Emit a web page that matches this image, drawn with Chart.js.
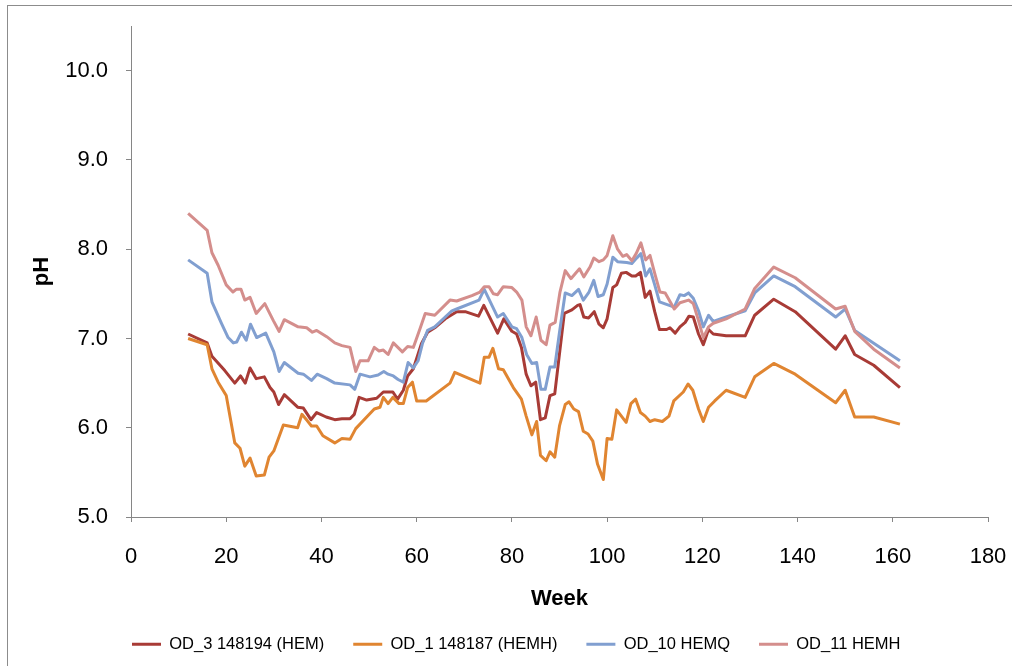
<!DOCTYPE html>
<html>
<head>
<meta charset="utf-8">
<script src="https://cdn.jsdelivr.net/npm/chart.js@4.4.0/dist/chart.umd.min.js"></script>
<style>
html,body{margin:0;padding:0;background:#fff;}
#wrap{width:1012px;height:666px;position:relative;}
</style>
</head>
<body>
<div id="wrap"><canvas id="c"></canvas></div>
<script>
// ---- data (week, pH) ----
const seriesNames = ['OD_3 148194 (HEM)', 'OD_1 148187 (HEMH)', 'OD_10 HEMQ', 'OD_11 HEMH'];

const weeksOD3 = [12,16,17,19.7,21.8,23,24,25,26.3,28,29.2,30,31,32.2,35,36.2,37.8,39,41,42.8,44.3,46,46.9,47.9,49.5,51.6,53,55,56,57.2,58.1,59.3,61,62.3,63.8,66,68.4,70.2,73,74.1,77,78.3,80,81,82,83,84,85,86,87,88,89,90,91,92.6,93.8,94.3,95.1,96.1,97.3,98.3,99.2,100,101.2,102,103,104,105.2,106,107,108,109,110,111,112.5,113.2,114.3,115.3,116.4,117.2,118.1,119.2,120.2,121.3,122.3,125,129,131,135,139.5,148,150,152,156,161.5];
const phOD3 = [7.05,6.95,6.80,6.64,6.50,6.58,6.50,6.67,6.55,6.57,6.45,6.40,6.26,6.37,6.23,6.22,6.09,6.17,6.12,6.09,6.10,6.10,6.15,6.34,6.31,6.33,6.40,6.40,6.32,6.42,6.58,6.66,6.94,7.07,7.12,7.22,7.30,7.30,7.25,7.37,7.06,7.22,7.08,7.05,6.90,6.60,6.47,6.51,6.09,6.11,6.36,6.38,6.83,7.28,7.32,7.37,7.38,7.24,7.23,7.30,7.16,7.12,7.22,7.57,7.60,7.73,7.74,7.70,7.70,7.74,7.46,7.53,7.30,7.10,7.10,7.12,7.06,7.13,7.18,7.25,7.24,7.05,6.93,7.10,7.05,7.03,7.03,7.26,7.44,7.30,6.88,7.03,6.82,6.70,6.45];

const weeksOD1 = [12,16,17,18.3,20,21.8,22.9,23.9,25,26.3,28,29,30,32,35,35.9,37,37.9,39,40.3,42.8,44.3,46,47.2,49.5,51.1,52.3,53,54,55,56.3,57.2,58.1,59.1,60,62,67,68,73.3,74.2,75.2,76,77.2,78.2,80.3,82,83,84.2,85.2,86,87.2,88,89,90,91.2,92,93,94,95,96,97,98,99.2,100,101,102,103,104,105,106,107,108,109,110,111.6,113,114,116,117,118,119.2,120.2,121.3,122.6,125,129,131,135,139.5,148,150,152,156,161.5];
const phOD1 = [7.00,6.93,6.66,6.51,6.36,5.83,5.77,5.57,5.66,5.46,5.47,5.67,5.74,6.03,6.00,6.15,6.08,6.02,6.02,5.91,5.83,5.88,5.87,5.99,6.12,6.21,6.23,6.34,6.27,6.34,6.27,6.27,6.45,6.51,6.30,6.30,6.50,6.62,6.50,6.79,6.79,6.89,6.66,6.65,6.45,6.32,6.13,5.92,6.07,5.69,5.63,5.73,5.67,6.02,6.26,6.29,6.21,6.18,5.96,5.93,5.85,5.59,5.42,5.88,5.87,6.20,6.13,6.06,6.27,6.32,6.17,6.13,6.07,6.09,6.07,6.13,6.30,6.40,6.49,6.42,6.21,6.07,6.23,6.30,6.42,6.34,6.57,6.72,6.60,6.28,6.42,6.12,6.12,6.04];

const weeksOD10 = [12,16,17,19,20.4,21.5,22.2,23.2,24.2,25.1,26.4,28.3,30,31.1,32.2,35.1,36.2,37.9,39.1,41.1,42.8,46,47,48.1,50.2,51.9,53.1,54,55.1,56.1,57.2,58.2,59.3,60.3,61.2,62.3,63.8,67.4,68.4,73.1,74.2,77,78.2,80,81,82.1,83.1,84.2,85.2,86.1,87,88,89,90,91.2,92.6,94,95,96.2,97.2,98.1,99.2,100,101.2,102.2,104.1,105.2,106.2,107.1,108.1,109,110,111,114.1,115.3,116.2,117.1,118.1,119.2,120.2,121.3,122.3,125,129,131,135,139.5,148,150,152,161.5];
const phOD10 = [7.88,7.73,7.41,7.17,7.01,6.95,6.96,7.07,6.98,7.16,7.01,7.06,6.85,6.63,6.73,6.61,6.60,6.53,6.60,6.55,6.50,6.48,6.43,6.60,6.57,6.59,6.63,6.60,6.58,6.54,6.51,6.73,6.67,6.75,6.94,7.09,7.13,7.31,7.33,7.43,7.55,7.24,7.28,7.13,7.11,7.01,6.82,6.72,6.73,6.43,6.43,6.68,6.68,7.07,7.51,7.48,7.55,7.43,7.52,7.65,7.47,7.49,7.61,7.91,7.86,7.85,7.84,7.90,7.95,7.70,7.78,7.60,7.41,7.35,7.49,7.48,7.51,7.45,7.31,7.13,7.26,7.19,7.24,7.31,7.51,7.70,7.58,7.24,7.33,7.09,6.75];

const weeksOD11 = [12,16,17,18.3,20,21.4,22.1,23.1,23.9,25,26.3,28.1,29.9,31.1,32.2,35.1,36.9,38.1,39,41.1,42.8,44.3,46,47.2,48.1,49.8,51.1,52.1,53,54,55.1,57,58.1,59.3,60.7,61.8,63.8,67,68.4,71.6,73.3,74.2,75.2,76.1,77,78.2,80,81,82.1,83,84,85.1,86.1,87.2,88,89.1,90.1,91.2,92.4,94.2,95.1,96.4,97.2,98.3,99.2,100,101.2,102.2,103.3,104.1,105.2,106.1,107.1,108.1,109,110.1,111.1,112.2,114.1,115.3,117.1,118.1,119.2,120.2,121.3,122.3,125,129,131,135,139.5,148,150,152,156,161.5];
const phOD11 = [8.40,8.21,7.96,7.82,7.60,7.52,7.55,7.55,7.43,7.46,7.28,7.39,7.20,7.08,7.21,7.13,7.12,7.07,7.09,7.02,6.95,6.92,6.90,6.63,6.75,6.75,6.90,6.86,6.87,6.82,6.95,6.85,6.91,6.90,7.11,7.28,7.26,7.43,7.42,7.48,7.52,7.58,7.58,7.50,7.49,7.58,7.57,7.52,7.43,7.13,7.03,7.24,6.98,6.93,7.15,7.18,7.52,7.76,7.67,7.78,7.69,7.80,7.90,7.86,7.88,7.93,8.15,8.00,7.92,7.94,7.87,7.95,8.07,7.88,7.93,7.71,7.52,7.51,7.33,7.40,7.43,7.39,7.20,7.01,7.13,7.17,7.22,7.33,7.56,7.80,7.68,7.33,7.36,7.08,6.88,6.67];

const xTicks = [0,20,40,60,80,100,120,140,160,180];
const yTicks = [5,6,7,8,9,10];

// ---- styles ----
const colors = ['#A83B36', '#E08531', '#819FD0', '#D48E8C'];
const FONT = "'Liberation Sans', Arial, sans-serif";
const AXIS = '#868686';

const pts = (w, p) => w.map((x, i) => ({x: x, y: p[i]}));
const allWeeks = [weeksOD3, weeksOD1, weeksOD10, weeksOD11];
const allPh = [phOD3, phOD1, phOD10, phOD11];

const datasets = seriesNames.map((name, i) => ({
  label: name,
  data: pts(allWeeks[i], allPh[i]),
  borderColor: colors[i],
  backgroundColor: colors[i],
  borderWidth: 3,
  pointRadius: 0,
  pointHoverRadius: 0,
  tension: 0,
  fill: false,
  borderJoinStyle: 'round',
  order: 4 - i
}));

Chart.defaults.color = '#000';
Chart.defaults.font.family = FONT;

const outerBorder = {
  id: 'outerBorder',
  beforeDraw(chart) {
    const ctx = chart.ctx;
    ctx.save();
    ctx.strokeStyle = '#8c8c8c';
    ctx.lineWidth = 1;
    ctx.strokeRect(7.5, 5.5, 1200, 1200);
    ctx.restore();
  }
};

const legendShift = {
  id: 'legendShift',
  afterLayout(chart) {
    const lg = chart.legend;
    if (!lg) return;
    const w = lg.right - lg.left;
    lg.left = 103;
    lg.right = 103 + w + 200;
  }
};

new Chart(document.getElementById('c'), {
  type: 'line',
  data: { datasets: datasets },
  plugins: [outerBorder, legendShift],
  options: {
    responsive: true,
    maintainAspectRatio: false,
    animation: false,
    events: [],
    layout: { padding: { left: 0, right: 24, top: 26, bottom: 3.5 } },
    plugins: {
      tooltip: { enabled: false },
      legend: {
        display: true,
        position: 'bottom',
        align: 'start',
        labels: {
          boxWidth: 29,
          boxHeight: 3,
          padding: 29,
          color: '#000',
          font: { family: FONT, size: 16.5 },
          generateLabels(chart) {
            return chart.data.datasets.map((ds, i) => ({
              text: ds.label,
              fillStyle: ds.borderColor,
              strokeStyle: ds.borderColor,
              lineWidth: 0,
              hidden: false,
              datasetIndex: i
            }));
          }
        }
      }
    },
    scales: {
      x: {
        type: 'linear',
        min: 0,
        max: 180,
        afterBuildTicks(s) { s.ticks = xTicks.map(v => ({value: v})); },
        afterFit(s) { s.height = 90; s.paddingLeft = 0; s.paddingRight = 0; },
        ticks: { color: '#000', font: { family: FONT, size: 22 }, padding: 22, maxRotation: 0, autoSkip: false },
        grid: { display: true, drawOnChartArea: false, drawTicks: true, tickLength: 5, color: AXIS },
        border: { display: true, color: AXIS, width: 1 },
        title: { display: true, text: 'Week', color: '#000', font: { family: FONT, size: 22, weight: 'bold', lineHeight: 0.77 }, padding: { top: 0, bottom: 0 } }
      },
      y: {
        type: 'linear',
        min: 5,
        max: 10.5,
        bounds: 'data',
        afterBuildTicks(s) { s.ticks = yTicks.map(v => ({value: v})); },
        afterFit(s) { s.width = 131; s.paddingTop = 0; s.paddingBottom = 0; },
        ticks: { color: '#000', font: { family: FONT, size: 22 }, padding: 18, callback: v => Number(v).toFixed(1) },
        grid: { display: true, drawOnChartArea: false, drawTicks: true, tickLength: 5, color: AXIS },
        border: { display: true, color: AXIS, width: 1 },
        title: { display: true, text: 'pH', color: '#000', font: { family: FONT, size: 22, weight: 'bold', lineHeight: 0.77 }, padding: { top: 33.5, bottom: 0 } }
      }
    }
  }
});
</script>
</body>
</html>
